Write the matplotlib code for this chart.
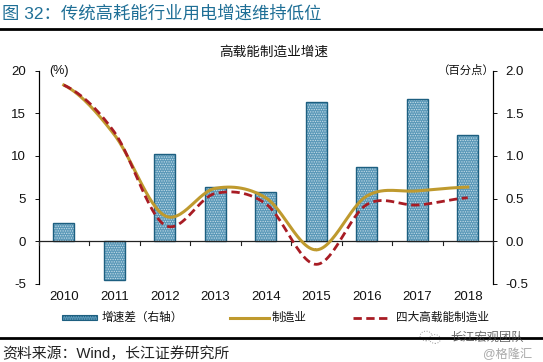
import numpy as np
import matplotlib
matplotlib.use('Agg')
import matplotlib.pyplot as plt
from matplotlib.lines import Line2D
from matplotlib.patches import Ellipse

plt.rcParams['font.family'] = ['Liberation Sans', 'Noto Sans CJK SC']
plt.rcParams['hatch.linewidth'] = 0.6
plt.rcParams['axes.unicode_minus'] = False

years = ['2010', '2011', '2012', '2013', '2014', '2015', '2016', '2017', '2018']
diff = [0.21, -0.45, 1.02, 0.63, 0.58, 1.63, 0.87, 1.67, 1.24]
mfg = [18.3, 12.5, 3.0, 6.2, 5.1, -1.0, 5.3, 5.9, 6.35]
high = [18.3, 12.8, 1.9, 5.6, 4.4, -2.7, 4.3, 4.25, 5.1]
left_ticks = [-5, 0, 5, 10, 15, 20]
right_ticks = [-0.5, 0.0, 0.5, 1.0, 1.5, 2.0]

W, H = 543, 362
BAR_FC = '#5a98b8'
BAR_EC = '#1d5f80'
DOT = '#c5dde8'
GOLD = '#bf9a2e'
RED = '#a81c24'


def smooth(y, n=30):
    # same kind of smoothing the spreadsheet line uses
    y = np.array(y, dtype=float)
    p = np.concatenate([[y[0]], y, [y[-1]]])
    xs, ys = [], []
    for i in range(1, len(p) - 2):
        t = np.linspace(0, 1, n)
        v = 0.5 * (2 * p[i] + (p[i + 1] - p[i - 1]) * t
                   + (2 * p[i - 1] - 5 * p[i] + 4 * p[i + 1] - p[i + 2]) * t ** 2
                   + (3 * p[i] - p[i - 1] - 3 * p[i + 1] + p[i + 2]) * t ** 3)
        xs.append(i - 1 + t)
        ys.append(v)
    return np.concatenate(xs), np.concatenate(ys)


fig = plt.figure(figsize=(W / 100, H / 100), dpi=100)
ax = fig.add_axes([38.5 / W, 1 - 284 / H, 454.5 / W, 213.5 / H])
ax2 = ax.twinx()

x = np.arange(len(years))
ax2.bar(x, diff, width=0.41, facecolor=BAR_FC, edgecolor=DOT, hatch='.......', linewidth=0, zorder=1)
ax2.bar(x, diff, width=0.41, facecolor='none', edgecolor=BAR_EC, linewidth=1.0, zorder=3)
ax2.set_ylim(-0.5, 2.0)
ax2.set_yticks(right_ticks)
ax2.set_yticklabels(['%.1f' % v for v in right_ticks])

ax.set_zorder(ax2.get_zorder() + 1)
ax.patch.set_visible(False)
sx, sy = smooth(mfg)
ax.plot(sx, sy, color=GOLD, lw=2.2, zorder=4)
sx, sy = smooth(high)
ax.plot(sx, sy, color=RED, lw=2.0, dashes=(3, 1.6), zorder=5)
ax.set_ylim(-5, 20)
ax.set_xlim(-0.5, len(years) - 0.5)
ax.set_yticks(left_ticks)
ax.set_xticks(x)
ax.set_xticklabels(years)

for a in (ax, ax2):
    a.spines['top'].set_visible(False)
    a.spines['bottom'].set_visible(False)
    a.tick_params(axis='y', labelsize=9.5, length=3, width=0.7, pad=6, colors='#111111')
    a.spines['left'].set_linewidth(0.8)
    a.spines['right'].set_linewidth(0.8)
ax.tick_params(axis='x', length=0, labelsize=9.5, pad=5, colors='#111111')
ax.axhline(0, color='#222222', lw=0.9, zorder=3)
for b in np.arange(len(years) + 1) - 0.5:
    ax.plot([b, b], [0, -0.4], color='#222222', lw=0.8, zorder=3, clip_on=False)


def put(px, py, s, **kw):
    fig.text(px / W, 1 - py / H, s, va='center', **kw)


put(2, 13, '图 32：传统高耗能行业用电增速维持低位', fontsize=12.5, color='#1f6f96', fontweight='medium')
put(274, 52, '高载能制造业增速', fontsize=9.8, ha='center', color='#111111')
put(49, 71, '(%)', fontsize=9, color='#111111')
put(437, 70, '（百分点）', fontsize=8.2, color='#111111')
put(2, 354, '资料来源：Wind，长江证券研究所', fontsize=10.7, color='#222222')

fig.add_artist(Line2D([0, 1], [1 - 29 / H] * 2, color='black', lw=2))
fig.add_artist(Line2D([0, 1], [1 - 337.5 / H] * 2, color='black', lw=2))

# legend drawn by hand to hold the three wide gaps
fig.patches.append(plt.Rectangle((62 / W, 1 - 320 / H), 35 / W, 5 / H, transform=fig.transFigure,
                                 facecolor=BAR_FC, edgecolor=BAR_EC, lw=0.8, hatch='.......', figure=fig))
put(102, 317.5, '增速差（右轴）', fontsize=8.4, color='#111111')
fig.add_artist(Line2D([230 / W, 269 / W], [1 - 317.5 / H] * 2, color=GOLD, lw=2.2))
put(272, 317.5, '制造业', fontsize=8.4, color='#111111')
fig.add_artist(Line2D([353 / W, 391 / W], [1 - 317.5 / H] * 2, color=RED, lw=2.0, dashes=(3, 1.6)))
put(396, 317.5, '四大高载能制造业', fontsize=8.4, color='#111111')

# watermark
for ex, ey, ew in [(426, 336, 12), (435, 339, 11)]:
    fig.patches.append(Ellipse((ex / W, 1 - ey / H), ew / W, ew * 0.8 / H, transform=fig.transFigure,
                               facecolor='white', edgecolor='#999999', lw=0.7, ls=':', figure=fig))
put(450, 337.5, '长江宏观团队', fontsize=8.8, color='#444444', alpha=0.8)
put(483, 355, '@格隆汇', fontsize=8.8, color='#aaaaaa')

fig.savefig('out.png', dpi=100)
